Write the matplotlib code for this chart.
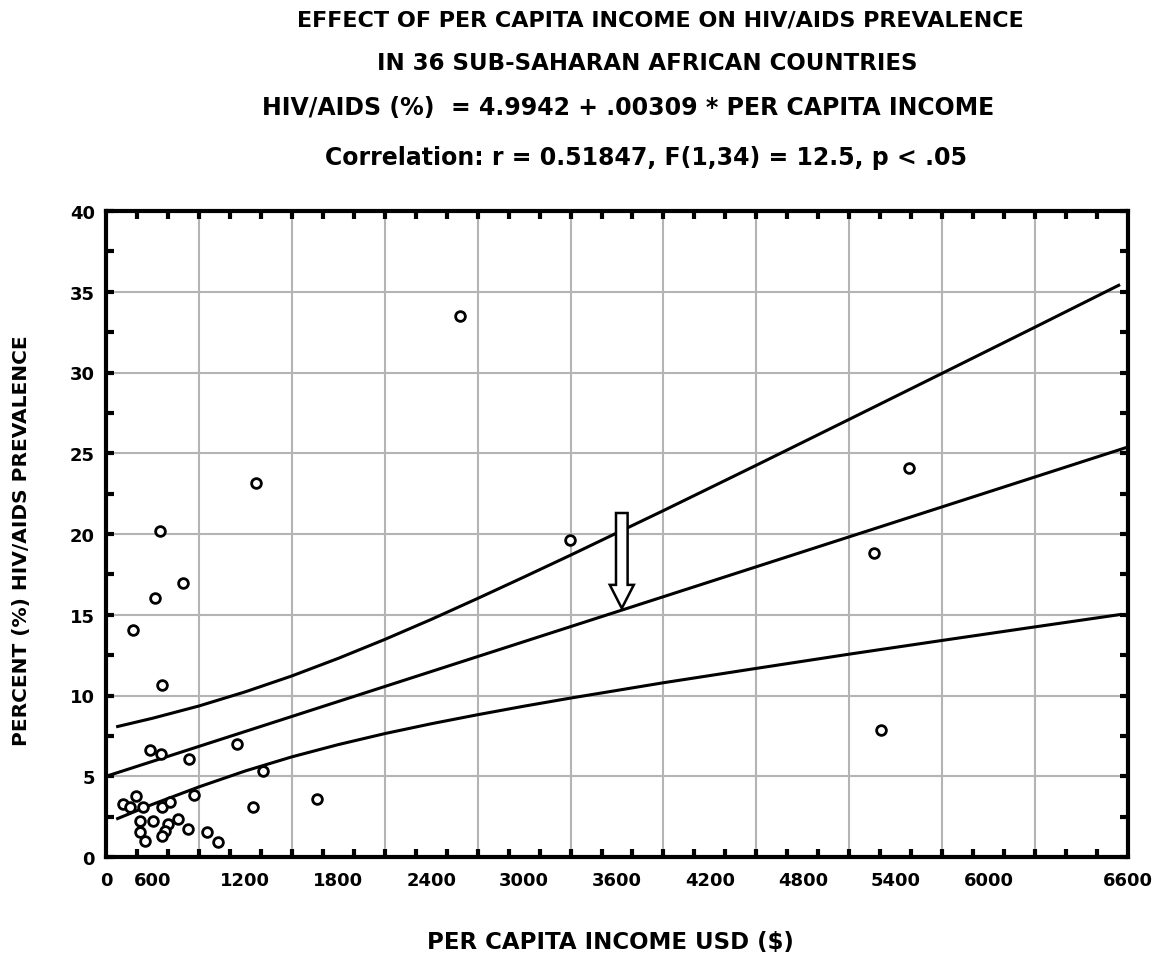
import matplotlib
matplotlib.use("Agg")
import matplotlib.pyplot as plt
import numpy as np
from matplotlib.patches import FancyArrow

# per capita income (USD) and HIV/AIDS prevalence (%)
income = [2286, 969, 349, 2997, 5186, 4960, 5005, 497, 316, 174,
          362, 846, 1014, 1363, 949, 284, 355, 536, 568, 192,
          110, 155, 239, 362, 413, 220, 304, 220, 252, 400,
          381, 362, 465, 530, 652, 723]
hiv = [33.5, 23.16, 20.19, 19.63, 24.09, 18.82, 7.86, 16.97, 16.04, 14.06,
       10.65, 7.0, 5.33, 3.59, 3.10, 6.63, 6.38, 6.07, 3.84, 3.80,
       3.28, 3.10, 3.10, 3.10, 3.41, 2.23, 2.23, 1.55, 0.99, 2.04,
       1.61, 1.30, 2.35, 1.73, 1.55, 0.93]

# regression line from the title
intercept = 4.9942
slope = 0.00309
fit_x = [0, 6600]

# confidence band values
band_x = [75, 300, 600, 900, 1200, 1500, 1800, 2100, 2400, 2700, 3000,
          3600, 4200, 4800, 5400, 6000, 6540]
band_upper = [8.08, 8.59, 9.35, 10.23, 11.21, 12.30, 13.47, 14.71, 16.01,
              17.34, 18.69, 21.45, 24.26, 27.10, 29.95, 32.81, 35.40]
band_lower = [2.38, 3.26, 4.34, 5.33, 6.20, 6.96, 7.64, 8.25, 8.81,
              9.34, 9.84, 10.79, 11.68, 12.56, 13.41, 14.25, 15.00]

xtick_pos = [0, 300, 900, 1500, 2100, 2700, 3300, 3900, 4500, 5100, 5700, 6600]
xtick_labels = ['0', '600', '1200', '1800', '2400', '3000', '3600', '4200',
                '4800', '5400', '6000', '6600']
ytick_pos = [0, 5, 10, 15, 20, 25, 30, 35, 40]

plt.rcParams['font.family'] = ['DejaVu Sans']
plt.rcParams['font.weight'] = 'bold'

fig = plt.figure(figsize=(11.61, 9.54), dpi=100)
ax = fig.add_axes([106/1161, 1 - 858/954, (1128 - 106)/1161, (858 - 212)/954])

# grid
for gx in range(600, 6600, 600):
    ax.axvline(gx, color='#b4b4b4', lw=1.5, zorder=0)
for gy in range(5, 40, 5):
    ax.axhline(gy, color='#b4b4b4', lw=1.5, zorder=0)

fx = np.array(fit_x)
ax.plot(fx, intercept + slope * fx, color='k', lw=2.2)
ax.plot(band_x, band_upper, color='k', lw=2.2)
ax.plot(band_x, band_lower, color='k', lw=2.2)

ax.plot(income, hiv, 'o', mfc='white', mec='k', ms=7, mew=2, zorder=3)

# arrow pointing at the regression line
ax.add_patch(FancyArrow(3331, 21.3, 0, -5.9, width=75, head_width=155,
                        head_length=1.45, length_includes_head=True,
                        facecolor='white', edgecolor='k', lw=1.8, zorder=4))

ax.set_xlim(0, 6600)
ax.set_ylim(0, 40)
ax.set_xticks(xtick_pos)
ax.set_xticklabels(xtick_labels)
ax.set_xticks(np.arange(0, 6601, 200), minor=True)
ax.set_yticks(ytick_pos)
ax.set_yticks(np.arange(0, 40.1, 2.5), minor=True)

ax.tick_params(axis='x', which='major', length=0, pad=10, labelsize=13)
ax.tick_params(axis='x', which='minor', direction='in', length=6, width=3,
               top=True, bottom=True)
ax.tick_params(axis='y', which='both', direction='in', length=6, width=3,
               left=True, right=True, labelsize=13, pad=8)
for s in ax.spines.values():
    s.set_linewidth(3)

fig.text(22/1161, 1 - 541/954, 'PERCENT (%) HIV/AIDS PREVALENCE', rotation=90,
         ha='center', va='center', fontsize=14.5, fontweight='bold')
fig.text(610/1161, 1 - 943/954, 'PER CAPITA INCOME USD ($)', ha='center',
         va='center', fontsize=16.5, fontweight='bold')

fig.text(660/1161, 1 - 20/954, 'EFFECT OF PER CAPITA INCOME ON HIV/AIDS PREVALENCE',
         ha='center', va='center', fontsize=16, fontweight='bold')
fig.text(647/1161, 1 - 64/954, 'IN 36 SUB-SAHARAN AFRICAN COUNTRIES',
         ha='center', va='center', fontsize=16.5, fontweight='bold')
fig.text(628/1161, 1 - 108/954, 'HIV/AIDS (%)  = 4.9942 + .00309 * PER CAPITA INCOME',
         ha='center', va='center', fontsize=17, fontweight='bold')
fig.text(646/1161, 1 - 158/954, 'Correlation: r = 0.51847, F(1,34) = 12.5, p < .05',
         ha='center', va='center', fontsize=17, fontweight='bold')

fig.savefig('out.png', dpi=100)
